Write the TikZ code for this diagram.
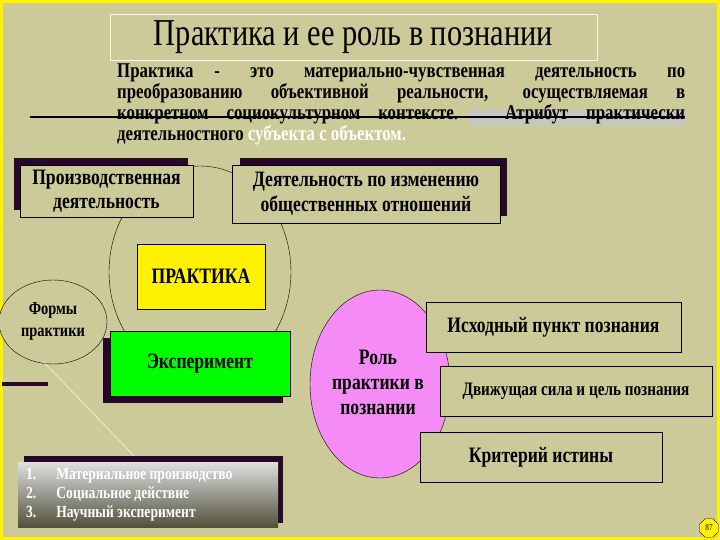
\documentclass[tikz,border=0pt]{standalone}
\usepackage{fontspec}
\setmainfont{Liberation Serif}[FakeStretch=0.8]
\usetikzlibrary{shapes.geometric}
\definecolor{bg}{RGB}{203,202,152}
\definecolor{shad}{RGB}{40,8,40}
\definecolor{pinkf}{RGB}{245,140,245}
\tikzset{
 box/.style={draw=black,fill=bg,line width=0.6pt,align=center,inner sep=0pt,font=\bfseries},
 shadowbox/.style={fill=shad,draw=none},
}
\begin{document}
\begin{tikzpicture}[x=1pt,y=-1pt]
\useasboundingbox (0,0) rectangle (720,540);
\fill[bg] (0,0) rectangle (720,540);
\draw[yellow,line width=3pt] (1.5,1.5) rectangle (718.5,538.5);
% title
\node[draw=white!85!bg,line width=0.6pt,minimum width=487pt,minimum height=46pt,font=\fontsize{38}{40}\selectfont] (title) at (353.5,37) {Практика и ее роль в познании};
% paragraph
\fill[gray!45] (470,110) rectangle (685,125);
\node[text width=568pt,align=justify,inner sep=0pt,anchor=north west,font=\bfseries\fontsize{21}{21}\selectfont] (para) at (117,64)
{Практика\quad - это материально-чувственная деятельность по\linebreak преобразованию объективной реальности, осуществляемая в\linebreak конкретном социокультурном контексте. Атрибут практически\linebreak деятельностного \textcolor{white}{субъекта с объектом.}};
\draw[black,line width=1.2pt] (30,117) -- (685,117);
% big circle
\node[draw,ellipse,minimum width=182pt,minimum height=212pt] (circ) at (200,272) {};
% boxes top
\fill[shadowbox] (14,158) rectangle (188,210);
\node[box,minimum width=173pt,minimum height=52pt,font=\bfseries\fontsize{22}{24}\selectfont] (prod) at (106.5,191) {Производственная\\деятельность};
\fill[shadowbox] (240,158) rectangle (507,216);
\node[box,minimum width=268pt,minimum height=58pt,font=\bfseries\fontsize{22}{25}\selectfont] (obsh) at (366,194) {Деятельность по изменению\\общественных отношений};
% praktika
\node[box,fill=yellow,minimum width=128pt,minimum height=65pt,font=\bfseries\fontsize{22}{24}\selectfont] (prak) at (201,276.5) {ПРАКТИКА};
% formy
\node[draw,ellipse,fill=bg,minimum width=108pt,minimum height=84pt,font=\bfseries\fontsize{18}{22}\selectfont,align=center] (formy) at (53,322) {Формы\\практики};
% green
\fill[shadowbox] (103,338) rectangle (283,403);
\node[box,fill=green,minimum width=180pt,minimum height=65pt,font=\bfseries\fontsize{22}{24}\selectfont] (exp) at (200,363.5) {Эксперимент};
\draw[shad,line width=4pt] (2,384) -- (48,384);
\coordinate (lend) at (138,460);
\draw[white!80!bg,line width=0.6pt] (formy.south) ++(-10,-3) coordinate (lstart) -- (lend);
% list
\fill[shadowbox] (24,456) rectangle (283,523);
\shade[top color=white!75!gray,bottom color=black!60!bg] (18,462) rectangle (278,527);
\node[anchor=west,inner sep=0pt,align=left,text=white,font=\bfseries\fontsize{17}{19}\selectfont] (list) at (26,494.5)
{1.\hspace{20pt}Материальное производство\\2.\hspace{20pt}Социальное действие\\3.\hspace{20pt}Научный эксперимент};
% pink
\node[draw,ellipse,fill=pinkf,minimum width=140pt,minimum height=188pt] (role) at (380,384) {};
\node[font=\bfseries\fontsize{22}{25}\selectfont,align=center] (roletxt) at (378,382) {Роль\\практики в\\познании};
\node[box,minimum width=255pt,minimum height=50pt,font=\bfseries\fontsize{22}{24}\selectfont] (b1) at (553.5,327) {Исходный пункт познания};
\node[box,minimum width=272pt,minimum height=50pt,font=\bfseries\fontsize{19}{22}\selectfont] (b2) at (576,391) {Движущая сила и цель познания};
\node[box,minimum width=242pt,minimum height=50pt,font=\bfseries\fontsize{22}{24}\selectfont] (b3) at (541,457) {Критерий истины};
% badge
\node[draw,regular polygon,regular polygon sides=8,fill=yellow,inner sep=0pt,minimum size=20pt,font=\fontsize{9}{9}\selectfont] (badge) at (709,528) {87};
\end{tikzpicture}
\end{document}
